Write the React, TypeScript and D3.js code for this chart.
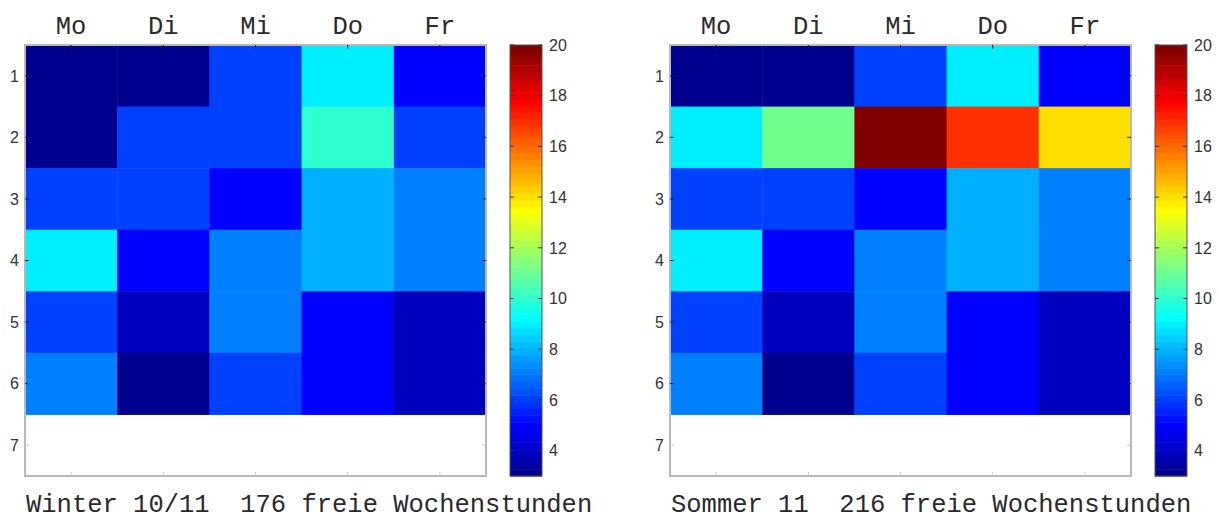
import React from 'react';
import * as d3 from 'd3';

const days = ['Mo', 'Di', 'Mi', 'Do', 'Fr'];
const slots = [1, 2, 3, 4, 5, 6, 7];

// free hours per slot (row) and day (column); slot 7 has no data
const winterValues: (number | null)[][] = [
	[3, 3, 6, 9, 5],
	[3, 6, 6, 10, 6],
	[6, 6, 5, 8, 7],
	[9, 5, 7, 8, 7],
	[6, 4, 7, 5, 4],
	[7, 3, 6, 5, 4],
	[null, null, null, null, null],
];

const sommerValues: (number | null)[][] = [
	[3, 3, 6, 9, 5],
	[9, 11, 20, 17, 14],
	[6, 6, 5, 8, 7],
	[9, 5, 7, 8, 7],
	[6, 4, 7, 5, 4],
	[7, 3, 6, 5, 4],
	[null, null, null, null, null],
];

const colorDomain: [number, number] = [3, 20];
const colorTicks = [4, 6, 8, 10, 12, 14, 16, 18, 20];

const winterTitle = 'Winter 10/11  176 freie Wochenstunden';
const sommerTitle = 'Sommer 11  216 freie Wochenstunden';

const LEVELS = 64;
const clamp = (v: number) => Math.max(0, Math.min(1, v));

// matlab style jet(64)
function jet(k: number) {
	const t = (k + 1) / LEVELS;
	const r = clamp(1.5 - Math.abs(4 * t - 3));
	const g = clamp(1.5 - Math.abs(4 * t - 2));
	const b = clamp(1.5 - Math.abs(4 * t - 1));
	return d3.rgb(r * 255, g * 255, b * 255).formatHex();
}

const levelScale = d3.scaleLinear().domain(colorDomain).range([0, LEVELS]);
const colorOf = (v: number) => jet(Math.max(0, Math.min(LEVELS - 1, Math.floor(levelScale(v)))));

const monoFont = '"Liberation Mono", "Courier New", monospace';
const sansFont = '"Liberation Sans", Arial, sans-serif';

const top = 45;
const plotW = 461;
const plotH = 431;
const cbGap = 24;
const cbW = 32;
const tick = 4;

function Heatmap({ x0, values, title }: { x0: number; values: (number | null)[][]; title: string }) {
	const x = d3.scaleBand<string>().domain(days).range([x0, x0 + plotW]);
	const y = d3.scaleBand<number>().domain(slots).range([top, top + plotH]);
	const cbX = x0 + plotW + cbGap;
	const cbY = d3.scaleLinear().domain(colorDomain).range([top + plotH, top]);
	const step = (colorDomain[1] - colorDomain[0]) / LEVELS;
	const empty = (s: number) => values[s - 1].every(v => v === null);

	return (
		<g>
			{values.map((row, ri) =>
				row.map((v, ci) =>
					v === null ? null : (
						<rect
							key={`${ri}-${ci}`}
							x={x(days[ci])}
							y={y(slots[ri])}
							width={x.bandwidth() + 0.5}
							height={y.bandwidth() + 0.5}
							fill={colorOf(v)}
						/>
					)
				)
			)}
			<rect x={x0} y={top} width={plotW} height={plotH} fill="none" stroke="#b8b8b8" strokeWidth={2} />

			{days.map(d => {
				const cx = x(d)! + x.bandwidth() / 2;
				return (
					<g key={d}>
						<line x1={cx} x2={cx} y1={top} y2={top + tick} stroke="#222" />
						<line x1={cx} x2={cx} y1={top + plotH} y2={top + plotH - tick} stroke="#d4c4c4" />
						<text x={cx} y={34} textAnchor="middle" fontFamily={monoFont} fontSize={25.5} fill="#2a2a2a">{d}</text>
					</g>
				);
			})}

			{slots.map(s => {
				const cy = y(s)! + y.bandwidth() / 2;
				const c = empty(s) ? '#d4c4c4' : '#222';
				return (
					<g key={s}>
						<line x1={x0} x2={x0 + tick} y1={cy} y2={cy} stroke={c} />
						<line x1={x0 + plotW} x2={x0 + plotW - tick} y1={cy} y2={cy} stroke={c} />
						<text x={x0 - 6} y={cy} dy="0.36em" textAnchor="end" fontFamily={sansFont} fontSize={16} fill="#333">{s}</text>
					</g>
				);
			})}

			{d3.range(LEVELS).map(k => (
				<rect
					key={k}
					x={cbX}
					y={cbY(colorDomain[0] + (k + 1) * step)}
					width={cbW}
					height={cbY(colorDomain[0]) - cbY(colorDomain[0] + step) + 0.5}
					fill={jet(k)}
				/>
			))}
			<rect x={cbX} y={top} width={cbW} height={plotH} fill="none" stroke="#555" strokeWidth={1} />
			{colorTicks.map(t => (
				<g key={t}>
					<line x1={cbX} x2={cbX + tick} y1={cbY(t)} y2={cbY(t)} stroke="#333" />
					<line x1={cbX + cbW} x2={cbX + cbW - tick} y1={cbY(t)} y2={cbY(t)} stroke="#333" />
					<text x={cbX + cbW + 7} y={cbY(t)} dy="0.36em" fontFamily={sansFont} fontSize={16} fill="#333">{t}</text>
				</g>
			))}

			<text x={x0 + 1} y={512} fontFamily={monoFont} fontSize={25.5} fill="#2a2a2a" style={{ whiteSpace: 'pre' }} xmlSpace="preserve">
				{title}
			</text>
		</g>
	);
}

export default function App() {
	return (
		<svg width={1219} height={519} style={{ position: 'absolute', left: 0, top: 0, background: '#fff' }}>
			<Heatmap x0={25} values={winterValues} title={winterTitle} />
			<Heatmap x0={670} values={sommerValues} title={sommerTitle} />
		</svg>
	);
}
